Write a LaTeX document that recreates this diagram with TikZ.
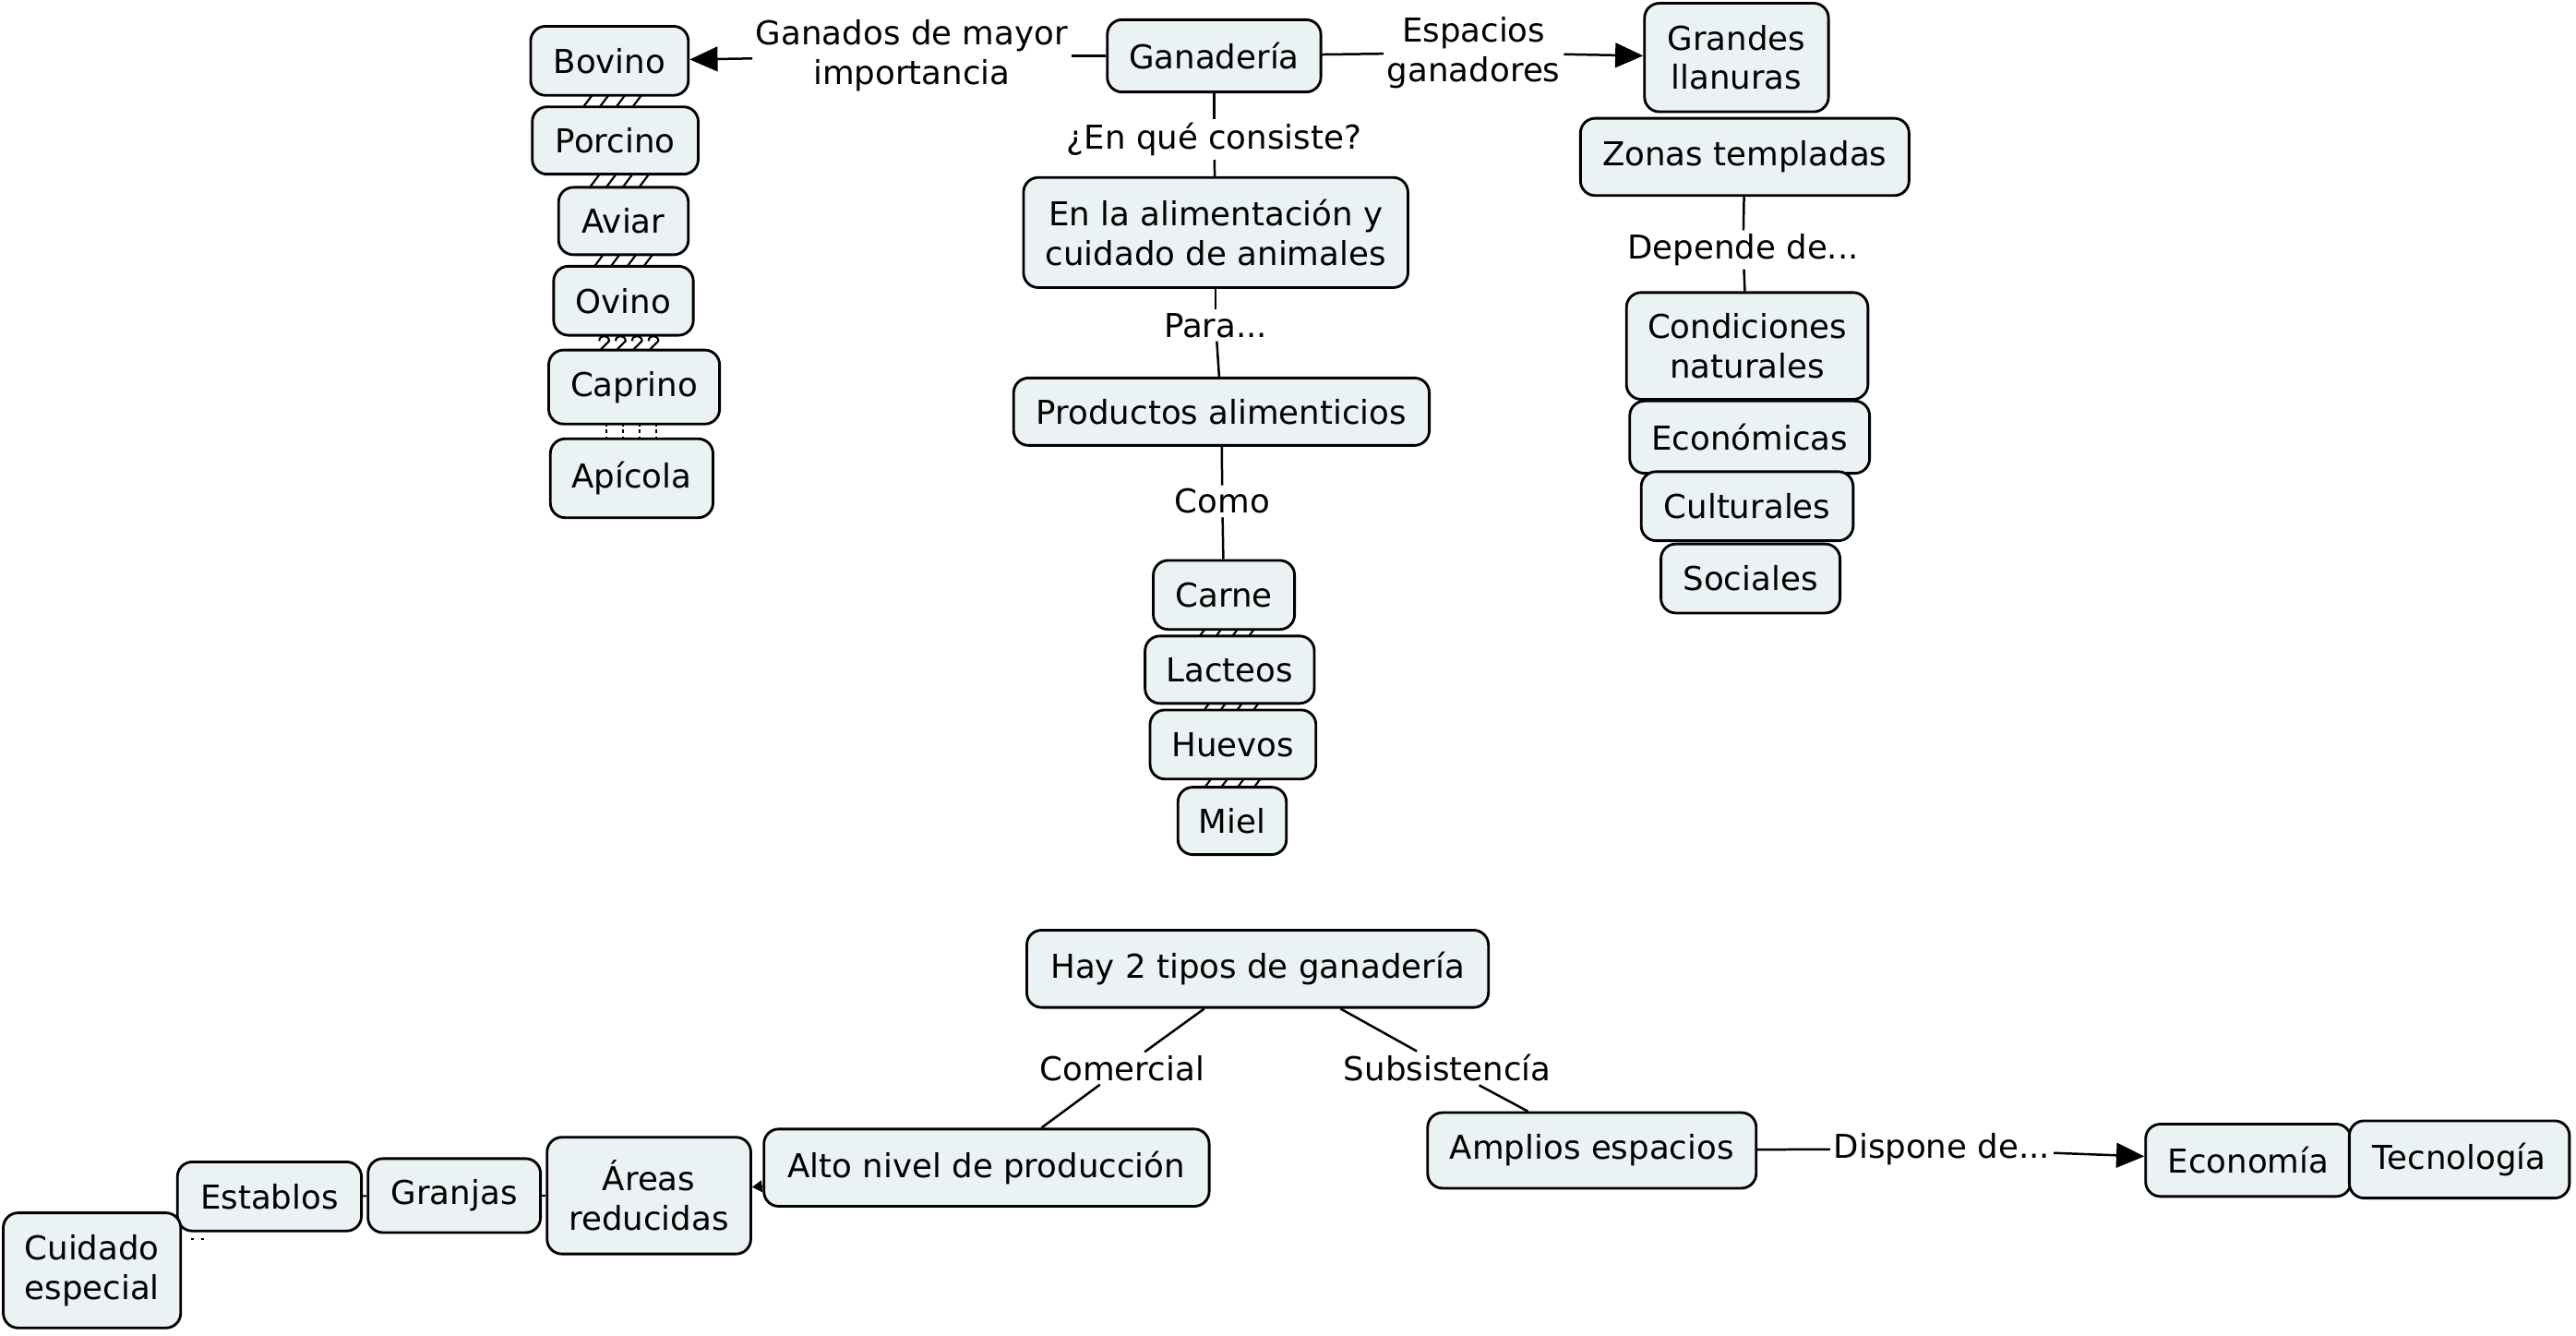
\documentclass[tikz,border=0pt]{standalone}
\usepackage{fontspec}
\setmainfont{DejaVu Sans}
\usetikzlibrary{arrows.meta,calc,backgrounds}
\definecolor{nfill}{RGB}{235,242,244}
\tikzset{
  cnode/.style={draw=black, fill=nfill, rounded corners=9pt, line width=1.6pt, inner sep=0pt, align=center, font=\fontsize{20}{24}\selectfont},
  sz/.style 2 args={minimum width=#1pt, minimum height=#2pt},
  lbl/.style={inner sep=2pt, align=center, font=\fontsize{20}{24}\selectfont},
  conn/.style={line width=1.4pt},
  arr/.style={conn, -{Triangle[length=17pt,width=15pt]}},
  smallarr/.style={conn, -{Triangle[length=6pt,width=7pt]}},
  zz/.style={line width=1.2pt},
}
\newcommand\slantmk[2]{%
  \coordinate (m) at ($(#1.south)!0.5!(#2.north)$);
  \foreach \dx in {-15,-5,5,15}{\draw[zz] (m) ++(\dx-3,4) -- ++(6,-8);}}
\newcommand\curlmk[2]{%
  \coordinate (m) at ($(#1.south)!0.5!(#2.north)$);
  \foreach \dx in {-15,-5,5,15}{\draw[zz] ($(m)+(\dx-3,-1)$) .. controls ($(m)+(\dx-3,-5)$) and ($(m)+(\dx+3,-5)$) .. ($(m)+(\dx+3,-1)$) -- ($(m)+(\dx-2,4)$);}}
\newcommand\dotmk[2]{%
  \coordinate (m) at ($(#1.south)!0.5!(#2.north)$);
  \foreach \dx in {-16,-6,4,14}{\draw[zz, dash pattern=on 2pt off 2pt] (m) ++(\dx,-5) -- ++(0,10);}}
\begin{document}
\begin{tikzpicture}[x=1pt,y=-1pt]
\useasboundingbox (0,0) rectangle (1568,812.4);
% top
\node[cnode, sz={130}{44}] (gan) at (739,34) {Ganadería};
\node[cnode, sz={96}{42}] (bov) at (371,37) {Bovino};
\node[cnode, sz={101}{41}] (por) at (374.5,85.5) {Porcino};
\node[cnode, sz={79}{41}] (avi) at (379.5,134.5) {Aviar};
\node[cnode, sz={85}{42}] (ovi) at (379.5,183) {Ovino};
\node[cnode, sz={104}{45}] (cap) at (386,235.5) {Caprino};
\node[cnode, sz={99}{48}] (api) at (384.5,291) {Apícola};
\node[cnode, sz={112}{66}] (gl) at (1057,35) {Grandes\\llanuras};
\node[cnode, sz={200}{47}] (zon) at (1062,95.5) {Zonas templadas};
\node[cnode, sz={147}{65}] (con) at (1063.5,210.5) {Condiciones\\naturales};
\node[cnode, sz={146}{44}] (ecn) at (1065,266) {Económicas};
\node[cnode, sz={129}{42}] (cul) at (1063.5,308) {Culturales};
\node[cnode, sz={109}{42}] (soc) at (1065.5,352) {Sociales};
\node[cnode, sz={234}{67}] (ali) at (740,141.5) {En la alimentación y\\cuidado de animales};
\node[cnode, sz={253}{41}] (pro) at (743.5,250.5) {Productos alimenticios};
\node[cnode, sz={86}{42}] (car) at (745,362) {Carne};
\node[cnode, sz={103}{41}] (lac) at (748.5,407.5) {Lacteos};
\node[cnode, sz={101}{42}] (hue) at (750.5,453) {Huevos};
\node[cnode, sz={66}{41}] (mie) at (750,499.5) {Miel};
% bottom
\node[cnode, sz={281}{47}] (hay) at (765.5,589.5) {Hay 2 tipos de ganadería};
\node[cnode, sz={271}{47}] (alt) at (600.5,710.5) {Alto nivel de producción};
\node[cnode, sz={200}{46}] (amp) at (969,700) {Amplios espacios};
\node[cnode, sz={125}{44}] (eco) at (1368.5,706) {Economía};
\node[cnode, sz={134}{47}] (tec) at (1497,705.5) {Tecnología};
\node[cnode, sz={124}{71}] (are) at (395,727.5) {Áreas\\reducidas};
\node[cnode, sz={105}{45}] (gra) at (276.5,727.5) {Granjas};
\node[cnode, sz={112}{42}] (est) at (164,728) {Establos};
\node[cnode, sz={108}{70}] (cui) at (56,773) {Cuidado\\especial};
% labels
\node[lbl] (lg) at (555,34) {Ganados de mayor\\importancia};
\node[lbl] (le) at (897,32) {Espacios\\ganadores};
\node[lbl] (lq) at (739,85) {¿En qué consiste?};
\node[lbl] (lp) at (740,198) {Para...};
\node[lbl] (lc) at (744,305) {Como};
\node[lbl] (ldd) at (1061,152) {Depende de...};
\node[lbl] (lco) at (683,650) {Comercial};
\node[lbl] (lsu) at (881,650) {Subsistencía};
\node[lbl] (ldi) at (1182,699) {Dispone de...};
% connectors
\draw[conn] (gan) -- (lg);
\draw[arr] (lg) -- (bov);
\draw[conn] (gan) -- (le);
\draw[arr] (le) -- (gl);
\draw[conn] (gan) -- (lq);
\draw[conn] (lq) -- (ali);
\draw[conn] (ali) -- (lp);
\draw[conn] (lp) -- (pro);
\draw[conn] (pro) -- (lc);
\draw[conn] (lc) -- (car);
\draw[conn] (zon) -- (ldd);
\draw[conn] (ldd) -- (con);
\draw[conn] ([xshift=-32.5pt]hay.south) -- (lco);
\draw[conn] (lco) -- ([xshift=33.5pt]alt.north);
\draw[conn] ([xshift=50.5pt]hay.south) -- (lsu);
\draw[conn] (lsu) -- ([xshift=-39pt]amp.north);
\draw[conn] (amp) -- (ldi);
\draw[arr] (ldi) -- (eco);
\draw[smallarr] (alt) -- (are);
\draw[zz] (are) -- (gra);
\draw[zz] (gra) -- (est);
\draw[zz, dash pattern=on 1.5pt off 5pt] ([xshift=9pt,yshift=-4pt]est.south west) -- ++(10,0);
\begin{scope}[on background layer]
\slantmk{bov}{por}
\slantmk{por}{avi}
\slantmk{avi}{ovi}
\curlmk{ovi}{cap}
\dotmk{cap}{api}
\slantmk{car}{lac}
\slantmk{lac}{hue}
\slantmk{hue}{mie}
\end{scope}
\end{tikzpicture}
\end{document}
